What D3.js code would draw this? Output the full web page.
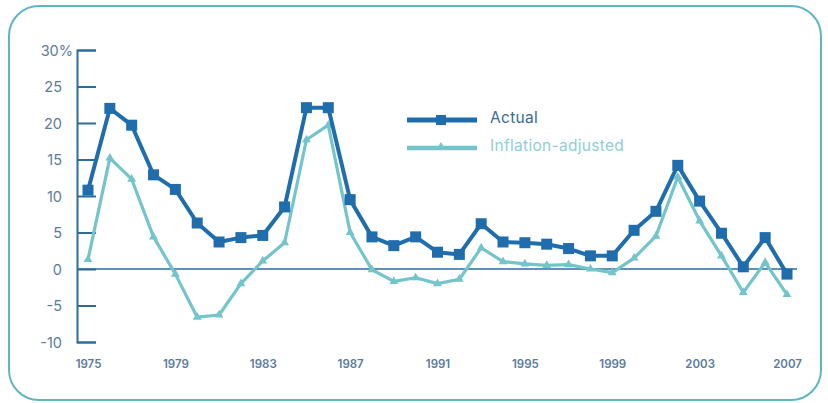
<!DOCTYPE html>
<html>
<head>
<meta charset="utf-8">
<script src="https://cdn.jsdelivr.net/npm/d3@7"></script>
<style>
  html, body { margin: 0; padding: 0; background: #ffffff; }
  svg { display: block; }
  text { font-family: Inter, "Noto Sans", sans-serif; }
</style>
</head>
<body>
<svg id="chart" width="828" height="403"></svg>
<script>
// Annual change, percent
const years = d3.range(1975, 2008);
const actual = [10.8, 22.0, 19.7, 12.9, 10.9, 6.3, 3.7, 4.3, 4.6, 8.5, 22.1, 22.1, 9.5, 4.4, 3.2, 4.4, 2.3, 2.0, 6.2, 3.7, 3.6, 3.4, 2.8, 1.8, 1.8, 5.3, 7.9, 14.2, 9.3, 4.9, 0.3, 4.3, -0.7];
const inflationAdjusted = [1.3, 15.2, 12.3, 4.4, -0.7, -6.6, -6.3, -2.0, 1.1, 3.6, 17.7, 19.7, 5.0, -0.1, -1.7, -1.2, -2.0, -1.4, 2.9, 1.0, 0.7, 0.5, 0.6, 0.0, -0.5, 1.5, 4.5, 12.6, 6.6, 1.8, -3.2, 0.9, -3.5];
const yTicks = [-10, -5, 0, 5, 10, 15, 20, 25, 30];
const xTicks = [1975, 1979, 1983, 1987, 1991, 1995, 1999, 2003, 2007];
const seriesNames = ["Actual", "Inflation-adjusted"];

const colors = { actual: "#1f6dad", infl: "#73c4cb", axis: "#2d6d9c", label: "#5b7b9b", frame: "#5cb7c1" };

const svg = d3.select("#chart");

// rounded frame
svg.append("rect")
  .attr("x", 9).attr("y", 6).attr("width", 812).attr("height", 394)
  .attr("rx", 30).attr("ry", 30)
  .attr("fill", "#fff").attr("stroke", colors.frame).attr("stroke-width", 2);

const x = d3.scaleLinear().domain([1975, 2007]).range([88, 787]);
const y = d3.scaleLinear().domain([-10, 30]).range([342, 50]);

// y axis: spine on the left with ticks reaching into the plot
const yAxis = d3.axisRight(y).tickValues(yTicks).tickSize(19).tickSizeOuter(19)
  .tickFormat(d => d);
const gy = svg.append("g").attr("transform", "translate(77,0)").call(yAxis);
gy.select(".domain").attr("stroke", colors.axis).attr("stroke-width", 2);
gy.selectAll(".tick line").attr("stroke", colors.axis).attr("stroke-width", 2);
gy.selectAll(".tick text")
  .attr("x", -15).attr("dy", "0.35em")
  .attr("text-anchor", "end")
  .attr("fill", colors.label)
  .style("font-size", "14.5px")
  .style("font-family", "Inter, 'Noto Sans', sans-serif");
gy.selectAll(".tick").filter(d => d === 30).select("text")
  .append("tspan").text("%");
// keep the percent sign hanging past the number
gy.selectAll(".tick").filter(d => d === 30).select("text")
  .attr("x", -4);

// zero line
svg.append("line")
  .attr("x1", 77).attr("x2", 797)
  .attr("y1", y(0)).attr("y2", y(0))
  .attr("stroke", colors.axis).attr("stroke-width", 1.6);

// x axis labels only
const xAxis = d3.axisBottom(x).tickValues(xTicks).tickSize(0).tickFormat(d3.format("d"));
const gx = svg.append("g").attr("transform", "translate(0,357)").call(xAxis);
gx.select(".domain").remove();
gx.selectAll(".tick text")
  .attr("fill", colors.label)
  .style("font-size", "11.5px")
  .style("font-weight", "600")
  .style("font-family", "Inter, 'Noto Sans', sans-serif");

const line = d3.line().x((d, i) => x(years[i])).y(d => y(d));

// inflation-adjusted series
svg.append("path").datum(inflationAdjusted)
  .attr("d", line).attr("fill", "none")
  .attr("stroke", colors.infl).attr("stroke-width", 3.2).attr("stroke-linejoin", "round");
const tri = d3.symbol().type(d3.symbolTriangle).size(34);
svg.append("g").selectAll("path").data(inflationAdjusted).join("path")
  .attr("d", tri)
  .attr("transform", (d, i) => `translate(${x(years[i])},${y(d)})`)
  .attr("fill", colors.infl);

// actual series
svg.append("path").datum(actual)
  .attr("d", line).attr("fill", "none")
  .attr("stroke", colors.actual).attr("stroke-width", 4).attr("stroke-linejoin", "round");
svg.append("g").selectAll("rect").data(actual).join("rect")
  .attr("x", (d, i) => x(years[i]) - 5.5)
  .attr("y", d => y(d) - 5.5)
  .attr("width", 11).attr("height", 11)
  .attr("fill", colors.actual);

// legend
const legend = svg.append("g");
legend.append("line").attr("x1", 407).attr("x2", 477).attr("y1", 120).attr("y2", 120)
  .attr("stroke", colors.actual).attr("stroke-width", 5);
legend.append("rect").attr("x", 436).attr("y", 115).attr("width", 10).attr("height", 10)
  .attr("fill", colors.actual);
legend.append("text").attr("x", 490).attr("y", 118).attr("dy", "0.35em")
  .attr("fill", "#3a6a96").style("font-size", "15.5px").style("letter-spacing", "0.3px")
  .text(seriesNames[0]);

legend.append("line").attr("x1", 407).attr("x2", 477).attr("y1", 148).attr("y2", 148)
  .attr("stroke", colors.infl).attr("stroke-width", 4.5);
legend.append("path").attr("d", d3.symbol().type(d3.symbolTriangle).size(22)())
  .attr("transform", "translate(441,146)").attr("fill", colors.infl);
legend.append("text").attr("x", 490).attr("y", 146).attr("dy", "0.35em")
  .attr("fill", "#8ecfd6").style("font-size", "15.5px").style("letter-spacing", "0.3px")
  .text(seriesNames[1]);
</script>
</body>
</html>
